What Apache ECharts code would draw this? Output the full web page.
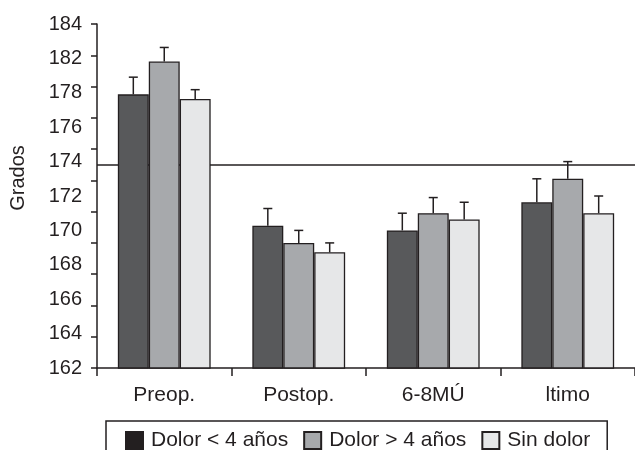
<!DOCTYPE html>
<html>
<head>
<meta charset="utf-8">
<script src="https://cdn.jsdelivr.net/npm/echarts@6/dist/echarts.min.js"></script>
<style>
  html, body { margin: 0; padding: 0; background: #ffffff; }
  #chart { width: 635px; height: 450px; }
</style>
</head>
<body>
<div id="chart"></div>
<script>
// Categories and series
const categories = ['Preop.', 'Postop.', '6-8MÚ', 'ltimo'];
const seriesNames = ['Dolor < 4 años', 'Dolor > 4 años', 'Sin dolor'];

// Mean angle (degrees) per group
const dolorMenos4 = [179.5, 171.1, 170.8, 172.6];
const dolorMas4   = [181.6, 170.0, 171.9, 174.1];
const sinDolor    = [179.2, 169.4, 171.5, 171.9];

// Upper error (degrees)
const errMenos4 = [1.1, 1.1, 1.1, 1.5];
const errMas4   = [0.9, 0.8, 1.0, 1.1];
const errSin    = [0.6, 0.6, 1.1, 1.1];

// Reference level drawn across the plot
const referencia = 175;

// Printed tick labels of the value axis, top to bottom
const yTickLabels = ['184', '182', '178', '176', '174', '172', '170', '168', '166', '164', '162'];

const FONT = '"Liberation Sans", Arial, Helvetica, sans-serif';
const INK = '#231f20';
const barColors = ['#58595b', '#a7a9ac', '#e6e7e8'];
const CATEGORY_GAP = 0.31;

function barSeries(idx, values, extra) {
  return Object.assign({
    name: seriesNames[idx],
    type: 'bar',
    data: values,
    barGap: '0%',
    barCategoryGap: (CATEGORY_GAP * 100) + '%',
    z: 2,
    itemStyle: { color: barColors[idx], borderColor: INK, borderWidth: 1.3 },
    emphasis: { disabled: true }
  }, extra || {});
}

// Error whisker with a short cap, placed over its bar
function errorSeries(idx, values, errs) {
  return {
    type: 'custom',
    z: 3,
    silent: true,
    data: values.map((v, i) => [i, v, v + errs[i]]),
    encode: { x: 0, y: [1, 2] },
    renderItem(params, api) {
      const c = api.value(0);
      const lo = api.coord([c, api.value(1)]);
      const hi = api.coord([c, api.value(2)]);
      const band = api.size([1, 0])[0];
      const barW = band * (1 - CATEGORY_GAP) / 3;
      const x = lo[0] + (idx - 1) * barW;
      const st = { stroke: INK, lineWidth: 1.5 };
      return {
        type: 'group',
        children: [
          { type: 'line', shape: { x1: x, y1: lo[1], x2: x, y2: hi[1] }, style: st },
          { type: 'line', shape: { x1: x - 4.5, y1: hi[1], x2: x + 4.5, y2: hi[1] }, style: st }
        ]
      };
    }
  };
}

const chart = echarts.init(document.getElementById('chart'), null, { renderer: 'canvas' });

chart.setOption({
  animation: false,
  backgroundColor: '#ffffff',
  textStyle: { fontFamily: FONT, color: INK },
  grid: { left: 97, top: 24, width: 541, height: 344, containLabel: false },
  xAxis: {
    type: 'category',
    data: categories,
    axisLine: { show: true, lineStyle: { color: INK, width: 1.5 } },
    axisTick: { show: true, length: 8, lineStyle: { color: INK, width: 1.5 } },
    axisLabel: { fontSize: 21, color: INK, fontFamily: FONT, margin: 17, interval: 0 },
    splitLine: { show: false }
  },
  yAxis: [
    {
      type: 'value',
      min: 162,
      max: 184,
      interval: 2,
      axisLine: { show: true, lineStyle: { color: INK, width: 1.5 } },
      axisTick: { show: true, length: 6, lineStyle: { color: INK, width: 1.5 } },
      axisLabel: { show: false },
      splitLine: { show: false }
    },
    {
      type: 'category',
      data: yTickLabels.slice().reverse(),
      boundaryGap: false,
      position: 'left',
      axisLine: { show: false },
      axisTick: { show: false },
      axisLabel: { fontSize: 20, color: INK, fontFamily: FONT, margin: 15, interval: 0 },
      splitLine: { show: false }
    }
  ],
  legend: {
    left: 106,
    top: 421,
    padding: [9, 17, 9, 19],
    itemWidth: 17,
    itemHeight: 17,
    itemGap: 15,
    icon: 'rect',
    selectedMode: false,
    borderColor: INK,
    borderWidth: 1.5,
    borderRadius: 0,
    textStyle: { fontSize: 21, color: INK, fontFamily: FONT, padding: [0, 0, 0, 3] },
    data: [
      { name: seriesNames[0], itemStyle: { color: INK } },
      { name: seriesNames[1] },
      { name: seriesNames[2] }
    ]
  },
  graphic: [
    {
      type: 'text',
      x: 18,
      y: 178,
      rotation: Math.PI / 2,
      style: {
        text: 'Grados',
        fontSize: 20,
        fontFamily: FONT,
        fill: INK,
        align: 'center',
        verticalAlign: 'middle'
      }
    }
  ],
  series: [
    barSeries(0, dolorMenos4, {
      markLine: {
        silent: true,
        z: 1,
        symbol: 'none',
        label: { show: false },
        lineStyle: { color: INK, width: 1.5, type: 'solid' },
        data: [{ yAxis: referencia }]
      }
    }),
    barSeries(1, dolorMas4),
    barSeries(2, sinDolor),
    errorSeries(0, dolorMenos4, errMenos4),
    errorSeries(1, dolorMas4, errMas4),
    errorSeries(2, sinDolor, errSin)
  ]
});
</script>
</body>
</html>
